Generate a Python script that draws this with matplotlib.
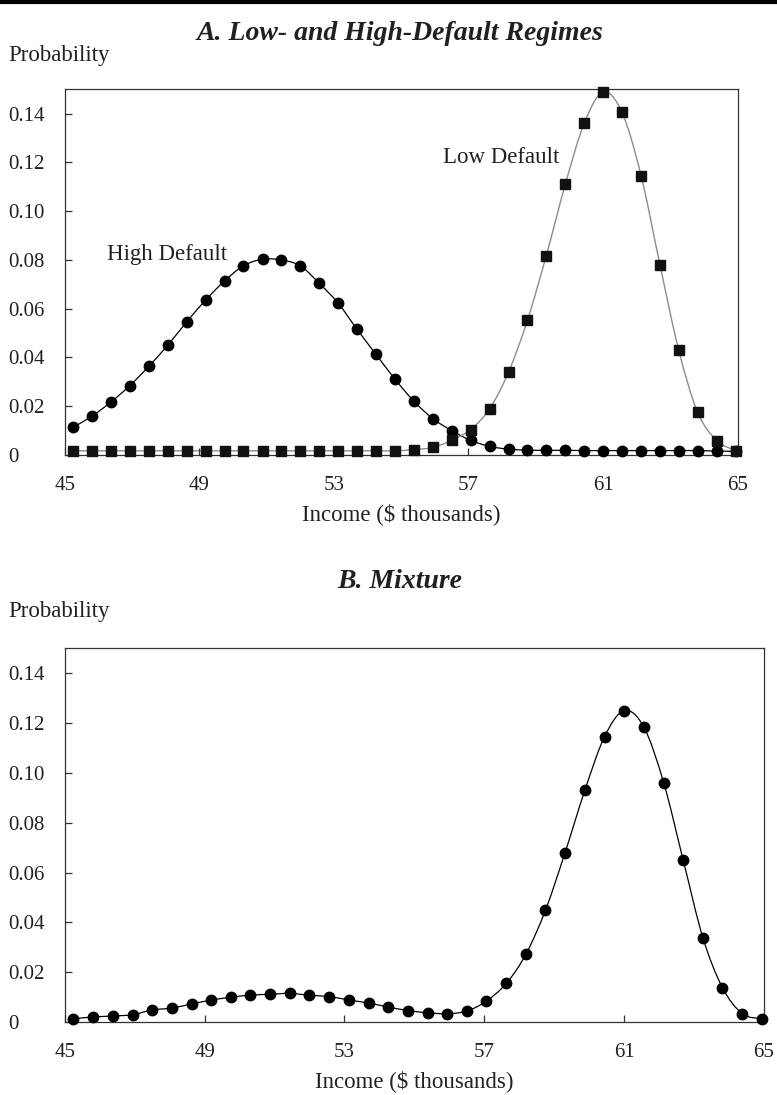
import numpy as np
import matplotlib
matplotlib.use("Agg")
import matplotlib.pyplot as plt
from matplotlib.path import Path
from matplotlib.patches import PathPatch
from matplotlib.lines import Line2D

plt.rcParams['font.family'] = ['Liberation Serif', 'DejaVu Serif']

# income grid ($ thousands), shared by both panels
income = [45.25, 45.81, 46.38, 46.94, 47.50, 48.06, 48.63, 49.19, 49.75, 50.31,
          50.88, 51.44, 52.00, 52.56, 53.13, 53.69, 54.25, 54.81, 55.38, 55.94,
          56.50, 57.06, 57.63, 58.19, 58.75, 59.31, 59.88, 60.44, 61.00, 61.56,
          62.13, 62.69, 63.25, 63.81, 64.38, 64.94]

high_default = [0.0114, 0.0159, 0.0218, 0.0285, 0.0364, 0.0450, 0.0547, 0.0636, 0.0714, 0.0776,
                0.0803, 0.0800, 0.0776, 0.0705, 0.0622, 0.0515, 0.0413, 0.0312, 0.0220, 0.0149,
                0.0100, 0.0060, 0.0035, 0.0024, 0.0020, 0.0019, 0.0019, 0.0018, 0.0018, 0.0018,
                0.0018, 0.0018, 0.0018, 0.0018, 0.0016, 0.0015]

low_default = [0.0017, 0.0017, 0.0017, 0.0017, 0.0017, 0.0017, 0.0017, 0.0017, 0.0017, 0.0017,
               0.0017, 0.0017, 0.0017, 0.0017, 0.0017, 0.0017, 0.0017, 0.0017, 0.0022, 0.0031,
               0.0060, 0.0104, 0.0190, 0.0340, 0.0552, 0.0817, 0.1112, 0.1361, 0.1489, 0.1406,
               0.1146, 0.0780, 0.0429, 0.0175, 0.0059, 0.0018]

mixture = [0.0013, 0.0020, 0.0024, 0.0029, 0.0048, 0.0056, 0.0072, 0.0088, 0.0099, 0.0108,
           0.0111, 0.0115, 0.0107, 0.0102, 0.0088, 0.0076, 0.0060, 0.0046, 0.0037, 0.0033,
           0.0044, 0.0084, 0.0155, 0.0272, 0.0449, 0.0680, 0.0932, 0.1146, 0.1250, 0.1185,
           0.0961, 0.0649, 0.0339, 0.0138, 0.0033, 0.0013]

xticks = [45, 49, 53, 57, 61, 65]
yticks = [0, 0.02, 0.04, 0.06, 0.08, 0.10, 0.12, 0.14]
ytick_labels = ['0', '0.02', '0.04', '0.06', '0.08', '0.10', '0.12', '0.14']

ink = '#231f20'
fs = 15      # tick labels
fs_lab = 16.5  # axis labels / annotations
fs_title = 20


def smooth_line(ax, x, y, **kw):
    # smooth curve through the points (Catmull-Rom as cubic Bezier)
    x = np.asarray(x); y = np.asarray(y); n = len(x)
    verts = [(x[0], y[0])]
    codes = [Path.MOVETO]
    for i in range(n - 1):
        a = max(i - 1, 0); d = min(i + 2, n - 1)
        c1 = (x[i] + (x[i + 1] - x[a]) / 6, y[i] + (y[i + 1] - y[a]) / 6)
        c2 = (x[i + 1] - (x[d] - x[i]) / 6, y[i + 1] - (y[d] - y[i]) / 6)
        verts += [c1, c2, (x[i + 1], y[i + 1])]
        codes += [Path.CURVE4] * 3
    ax.add_patch(PathPatch(Path(verts, codes), fill=False, **kw))


def style(ax):
    ax.set_xlim(45, 65)
    ax.set_ylim(0, 0.15)
    ax.set_xticks(xticks)
    ax.set_yticks(yticks)
    ax.set_yticklabels(ytick_labels)
    for s in ax.spines.values():
        s.set_color('#333333')
        s.set_linewidth(0.9)
    ax.tick_params(direction='in', length=5, width=0.9, color='#333333',
                   labelsize=fs, labelcolor=ink, top=False, right=False)
    ax.tick_params(axis='y', pad=41)
    ax.tick_params(axis='x', pad=15)
    for lab in ax.get_yticklabels():
        lab.set_ha('left')
    ax.set_xlabel('Income ($ thousands)', fontsize=fs_lab, color=ink, labelpad=6)


fig = plt.figure(figsize=(7.77, 10.95), dpi=100)

fig.add_artist(Line2D([0, 1], [1 - 2 / 1095, 1 - 2 / 1095], color='black', lw=3))

# Panel A
ax1 = fig.add_axes([0.0833, 0.5845, 0.8661, 0.3339])
style(ax1)
smooth_line(ax1, income, high_default, edgecolor='black', lw=0.9)
smooth_line(ax1, income, low_default, edgecolor='#8c8c8c', lw=1.0)
ax1.plot(income, high_default, 'o', color='black', ms=7.5, clip_on=False, zorder=3)
ax1.plot(income, low_default, 's', color='#111111', ms=7.2, clip_on=False, zorder=4)
ax1.text(46.26, 0.0821, 'High Default', fontsize=fs_lab, color=ink, va='center')
ax1.text(56.24, 0.1222, 'Low Default', fontsize=fs_lab, color=ink, va='center')

fig.text(0.515, 1 - 33 / 1095, 'A. Low- and High-Default Regimes', fontsize=fs_title,
         style='italic', weight='bold', color=ink, ha='center', va='center')
fig.text(8 / 777, 1 - 55 / 1095, 'Probability', fontsize=fs_lab, color=ink, ha='left', va='center')

# Panel B
ax2 = fig.add_axes([0.0833, 0.0667, 0.9000, 0.3412])
style(ax2)
smooth_line(ax2, income, mixture, edgecolor='black', lw=0.9)
ax2.plot(income, mixture, 'o', color='black', ms=7.5, clip_on=False, zorder=3)

fig.text(0.514, 1 - 582 / 1095, 'B. Mixture', fontsize=fs_title,
         style='italic', weight='bold', color=ink, ha='center', va='center')
fig.text(8 / 777, 1 - 612 / 1095, 'Probability', fontsize=fs_lab, color=ink, ha='left', va='center')

fig.savefig('out.png', dpi=100)
